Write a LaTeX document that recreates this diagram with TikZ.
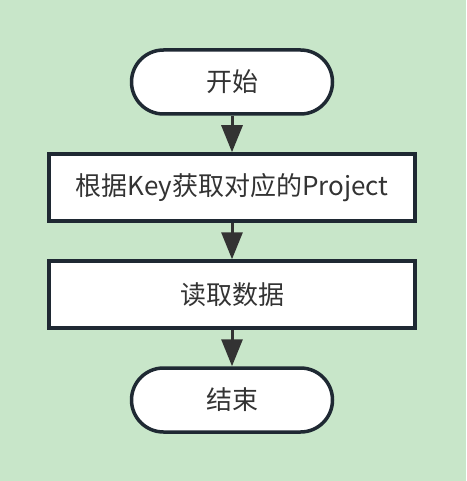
\documentclass[tikz,border=0pt]{standalone}
\usepackage{fontspec}
\setmainfont{Noto Sans CJK SC}
\usetikzlibrary{positioning,arrows.meta}
\definecolor{bggreen}{RGB}{200,230,201}
\definecolor{edge}{RGB}{31,41,51}
\definecolor{ink}{RGB}{51,51,51}
\begin{document}
\begin{tikzpicture}[x=1pt,y=1pt,node distance=36.5pt]
    % Style definition for the flow boxes
    \tikzset{flowbox/.style={rectangle, minimum width=366pt, minimum height=67pt, inner sep=0pt,
             text centered, draw=edge, line width=3.5pt, fill=white, text=ink,
             font=\fontsize{26}{31}\selectfont}}
    \tikzset{terminal/.style={flowbox, rounded corners=32pt, minimum width=201pt, minimum height=64pt}}
    \tikzstyle{arrow} = [line width=3pt, draw=ink, -{Triangle[length=27pt,width=21pt]}]

    % Background
    \fill[bggreen] (0,0) rectangle (466,-481);
    \useasboundingbox (0,0) rectangle (466,-481);

    % Main flow boxes
    \node (start) [terminal] at (232,-82) {开始};
    \node (fetch) [flowbox, below=of start] {根据Key获取对应的Project};
    \node (read) [flowbox, below=of fetch] {读取数据};
    \node (stop) [terminal, below=of read] {结束};

    % Arrows connecting the boxes
    \draw [arrow] (start) -- (fetch);
    \draw [arrow] (fetch) -- (read);
    \draw [arrow] (read) -- (stop);
\end{tikzpicture}
\end{document}
